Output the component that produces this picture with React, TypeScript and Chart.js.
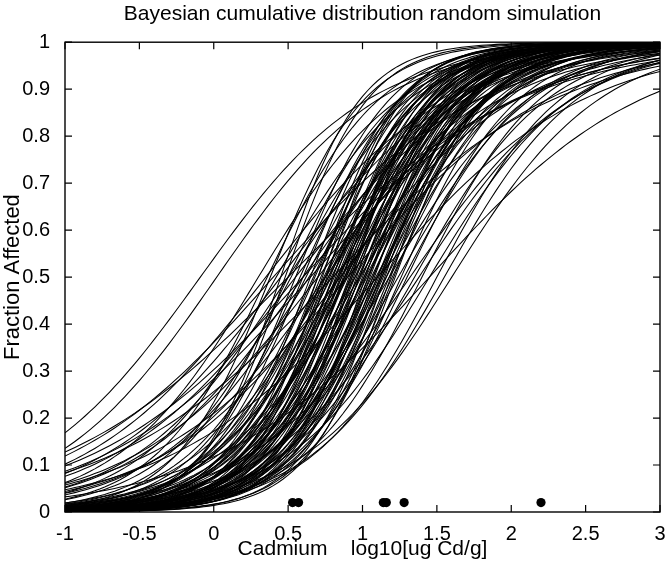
import React, { useEffect, useRef } from 'react';
import { Chart, registerables } from 'chart.js';

Chart.register(...registerables);

const TITLE = 'Bayesian cumulative distribution random simulation';
const X_LABEL = 'Cadmium    log10[ug Cd/g]';
const Y_LABEL = 'Fraction Affected';

const xTicks = [-1, -0.5, 0, 0.5, 1, 1.5, 2, 2.5, 3];
const yTicks = [0, 0.1, 0.2, 0.3, 0.4, 0.5, 0.6, 0.7, 0.8, 0.9, 1];

// observed data points (log10 dose, plotted near the bottom)
const obsX = [0.53, 0.57, 1.14, 1.16, 1.28, 2.2];
const obsY = [0.02, 0.02, 0.02, 0.02, 0.02, 0.02];

// simulated cumulative curves: dose at 50% affected, and logistic spread
const curveMedians = [
  -0.09, 0.02, 0.36, 0.42, 0.35, 0.40, 0.45, 0.50, 0.55, 0.60, 0.60, 0.65, 0.70, 0.80, 0.85, 0.90, 1.10, 1.45,
  1.60, 1.55, 1.50, 1.45, 1.40, 1.38, 1.35, 1.30, 1.32, 1.28,
  0.65, 0.68, 0.70, 0.72, 0.74, 0.75, 0.76, 0.78, 0.79, 0.80,
  0.81, 0.82, 0.83, 0.84, 0.85, 0.86, 0.87, 0.88, 0.89, 0.90,
  0.91, 0.92, 0.93, 0.94, 0.95, 0.96, 0.97, 0.98, 0.99, 1.00,
  1.01, 1.02, 1.03, 1.04, 1.05, 1.06, 1.07, 1.08, 1.09, 1.10,
  1.11, 1.12, 1.13, 1.14, 1.15, 1.16, 1.18, 1.20, 1.22, 1.24,
  0.60, 0.62, 0.58, 0.55, 0.50, 1.26, 1.18, 0.98, 0.88, 0.77,
  0.38, 0.45, 0.48, 0.52,
  0.70, 0.73, 0.77, 0.80, 0.83, 0.86, 0.89, 0.92, 0.95, 0.98,
  1.01, 1.04, 1.07, 1.10, 1.13, 1.16, 1.19, 0.67, 0.75, 0.84,
  0.93, 1.02, 1.12, 1.21, 0.88,
  0.30, 0.50, 0.75, 0.64,
];
const curveSpreads = [
  0.57, 0.55, 0.38, 0.45, 0.62, 0.70, 0.60, 0.78, 0.62, 0.55, 0.72, 0.70, 0.62, 0.75, 0.60, 0.68, 0.70, 0.72,
  0.50, 0.45, 0.42, 0.48, 0.40, 0.52, 0.45, 0.38, 0.55, 0.42,
  0.30, 0.35, 0.28, 0.33, 0.38, 0.30, 0.26, 0.34, 0.40, 0.31,
  0.36, 0.28, 0.42, 0.33, 0.30, 0.37, 0.27, 0.35, 0.32, 0.40,
  0.29, 0.34, 0.37, 0.31, 0.44, 0.28, 0.35, 0.32, 0.39, 0.30,
  0.36, 0.27, 0.41, 0.33, 0.30, 0.38, 0.34, 0.29, 0.43, 0.32,
  0.36, 0.30, 0.39, 0.34, 0.28, 0.41, 0.33, 0.37, 0.30, 0.45,
  0.33, 0.40, 0.36, 0.32, 0.38, 0.35, 0.47, 0.48, 0.46, 0.45,
  0.32, 0.27, 0.28, 0.42,
  0.31, 0.27, 0.36, 0.29, 0.33, 0.31, 0.38, 0.27, 0.33, 0.30,
  0.35, 0.29, 0.32, 0.37, 0.30, 0.34, 0.28, 0.36, 0.41, 0.39,
  0.26, 0.42, 0.35, 0.32, 0.30,
  0.48, 0.52, 0.55, 0.50,
];

const X_MIN = -1;
const X_MAX = 3;
const SAMPLES = 120;

function cdfPoints(median: number, spread: number) {
  const pts: { x: number; y: number }[] = [];
  for (let i = 0; i <= SAMPLES; i++) {
    const x = X_MIN + ((X_MAX - X_MIN) * i) / SAMPLES;
    pts.push({ x, y: 1 / (1 + Math.exp(-(x - median) / spread)) });
  }
  return pts;
}

const FONT = '"Liberation Sans", Arial, Helvetica, sans-serif';

const framePlugin = {
  id: 'matlabFrame',
  afterDatasetsDraw(chart: any) {
    const { ctx, chartArea, scales } = chart;
    const { left, right, top, bottom } = chartArea;
    const xs = scales.x;
    const ys = scales.y;
    ctx.save();
    ctx.strokeStyle = '#000';
    ctx.lineWidth = 1.4;
    ctx.strokeRect(left, top, right - left, bottom - top);
    ctx.lineWidth = 1.2;
    ctx.beginPath();
    const L = 7;
    for (const v of xTicks) {
      const px = xs.getPixelForValue(v);
      ctx.moveTo(px, bottom);
      ctx.lineTo(px, bottom - L);
      ctx.moveTo(px, top);
      ctx.lineTo(px, top + L);
    }
    for (const v of yTicks) {
      const py = ys.getPixelForValue(v);
      ctx.moveTo(left, py);
      ctx.lineTo(left + L, py);
      ctx.moveTo(right, py);
      ctx.lineTo(right - L, py);
    }
    ctx.stroke();
    ctx.restore();
  },
};

export default function App() {
  const canvasRef = useRef<HTMLCanvasElement | null>(null);

  useEffect(() => {
    const canvas = canvasRef.current;
    if (!canvas) return;

    const curveSets = curveMedians.map((m, i) => ({
      type: 'line' as const,
      label: 'curve ' + (i + 1),
      data: cdfPoints(m, curveSpreads[i]),
      borderColor: '#000',
      borderWidth: 1.05,
      pointRadius: 0,
      fill: false,
      tension: 0,
      order: 2,
    }));

    const obsSet = {
      type: 'scatter' as const,
      label: 'observed',
      data: obsX.map((x, i) => ({ x, y: obsY[i] })),
      backgroundColor: '#000',
      borderColor: '#000',
      pointRadius: 4.6,
      pointBorderWidth: 0,
      order: 0,
    };

    const chart = new Chart(canvas, {
      type: 'line',
      data: { datasets: [obsSet as any, ...curveSets] },
      options: {
        responsive: false,
        animation: false,
        devicePixelRatio: 1,
        layout: { padding: { left: 0, right: 8, top: 0, bottom: 0 } },
        plugins: {
          legend: { display: false },
          tooltip: { enabled: false },
          title: {
            display: true,
            fullSize: false,
            text: TITLE,
            color: '#000',
            font: { family: FONT, size: 21, weight: 'normal' },
            padding: { top: 2, bottom: 15 },
          },
        },
        scales: {
          x: {
            type: 'linear',
            min: X_MIN,
            max: X_MAX,
            afterBuildTicks: (scale: any) => {
              scale.ticks = xTicks.map((v) => ({ value: v }));
            },
            afterFit: (scale: any) => {
              scale.height = 53;
            },
            grid: { display: false },
            border: { display: false },
            ticks: {
              color: '#000',
              font: { family: FONT, size: 20 },
              padding: 2,
              maxRotation: 0,
              autoSkip: false,
              callback: (v: any) => String(Math.round(Number(v) * 10) / 10),
            },
            title: {
              display: true,
              text: X_LABEL,
              color: '#000',
              font: { family: FONT, size: 21 },
              padding: { top: 0, bottom: 3 },
            },
          },
          y: {
            type: 'linear',
            min: 0,
            max: 1,
            afterBuildTicks: (scale: any) => {
              scale.ticks = yTicks.map((v) => ({ value: v }));
            },
            afterFit: (scale: any) => {
              scale.width = 65;
            },
            grid: { display: false },
            border: { display: false },
            ticks: {
              color: '#000',
              font: { family: FONT, size: 20 },
              padding: 7,
              autoSkip: false,
              callback: (v: any) => String(Math.round(Number(v) * 10) / 10),
            },
            title: {
              display: true,
              text: Y_LABEL,
              color: '#000',
              font: { family: FONT, size: 22 },
              padding: { top: 0, bottom: 0 },
            },
          },
        },
      },
      plugins: [framePlugin],
    } as any);

    return () => chart.destroy();
  }, []);

  return (
    <div style={{ position: 'absolute', left: 0, top: 0, width: 668, height: 565, background: '#fff' }}>
      <canvas ref={canvasRef} width={668} height={565} style={{ width: 668, height: 565, display: 'block' }} />
    </div>
  );
}
